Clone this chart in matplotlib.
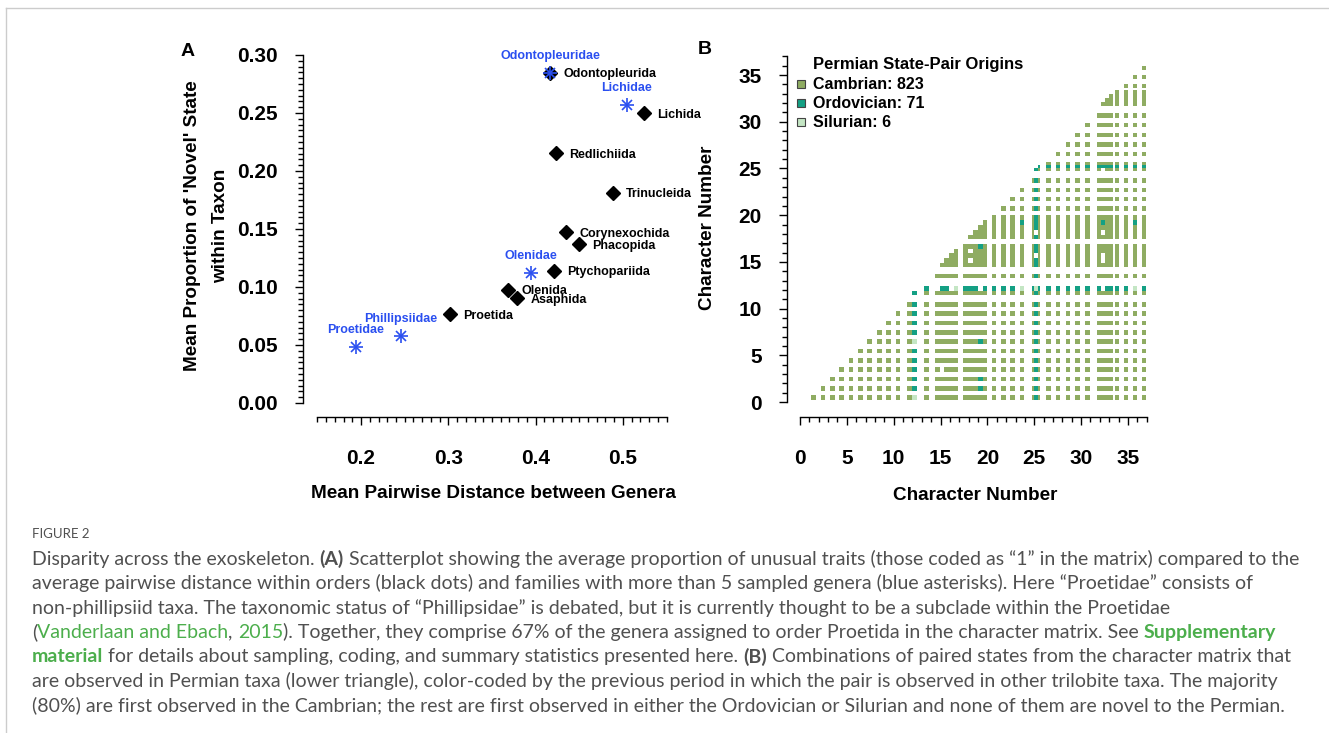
import matplotlib
matplotlib.use("Agg")
import matplotlib.pyplot as plt
import numpy as np
from matplotlib.colors import ListedColormap
from matplotlib.lines import Line2D
from matplotlib.ticker import MultipleLocator, FormatStrFormatter

# ---------------- panel A data ----------------
order_names = ['Odontopleurida', 'Lichida', 'Redlichiida', 'Trinucleida', 'Corynexochida',
               'Phacopida', 'Ptychopariida', 'Olenida', 'Asaphida', 'Proetida']
order_dist = [0.4165, 0.5242, 0.4234, 0.4883, 0.4348, 0.4497, 0.4211, 0.3684, 0.3790, 0.3019]
order_prop = [0.2847, 0.2497, 0.2152, 0.1813, 0.1471, 0.1368, 0.1141, 0.0974, 0.0902, 0.0765]

family_names = ['Odontopleuridae', 'Lichidae', 'Olenidae', 'Phillipsiidae', 'Proetidae']
family_dist = [0.4165, 0.5046, 0.3943, 0.2458, 0.1942]
family_prop = [0.2847, 0.2569, 0.1123, 0.0580, 0.0485]

# ---------------- panel B data ----------------
# state sub-cells along the character axis (same list for rows and columns)
state_lo = [0.2, 1.2, 2.2, 3.2, 4.2, 5.2, 6.2, 7.2, 8.2, 9.2, 10.2,
            11.45, 11.9, 13.25, 14.4, 14.9, 15.4, 15.9, 16.4,
            17.4, 17.92, 18.44, 18.96, 19.48, 20.45, 21.5, 22.45, 23.45,
            24.75, 25.0, 25.42, 26.3, 27.3, 28.35, 29.4, 30.45,
            31.65, 32.1, 32.5, 32.95, 33.6, 34.55, 35.55, 36.5]
state_hi = [0.7, 1.7, 2.7, 3.7, 4.7, 5.7, 6.7, 7.7, 8.7, 9.7, 10.7,
            11.9, 12.45, 13.75, 14.9, 15.4, 15.9, 16.4, 16.9,
            17.92, 18.44, 18.96, 19.48, 20.0, 20.95, 22.0, 22.95, 23.95,
            25.0, 25.42, 25.65, 26.8, 27.8, 28.85, 29.9, 30.9,
            32.1, 32.5, 32.95, 33.4, 34.05, 35.0, 36.0, 36.95]
ordovician_states = [12, 29]
ordovician_pairs = [(22, 18), (27, 22), (37, 22), (42, 22), (22, 6), (22, 2), (22, 1)]
silurian_pairs = [(12, 0), (12, 6), (18, 12), (27, 12), (29, 12), (42, 12)]
absent_pairs = [(37, 12), (22, 12), (37, 20), (37, 15), (37, 16), (20, 17), (20, 15),
                (37, 28), (15, 3), (29, 20), (29, 16), (14, 12), (17, 12)]
period_labels = ['Cambrian: 823', 'Ordovician: 71', 'Silurian: 6']
period_colors = ['#8fac62', '#14a084', '#c4e6c4']

BLUE = '#2a4ff0'
GREY = '#505050'
GREEN = '#4cae4c'

W, H = 1329, 733
plt.rcParams['font.family'] = ['Liberation Sans', 'DejaVu Sans']
plt.rcParams['font.weight'] = 'bold'
fig = plt.figure(figsize=(W / 100, H / 100), dpi=100)


def fx(px):
    return px / W


def fy(py):
    return 1 - py / H


def r_style(ax, left_out, bottom_out, xb, yb):
    ax.spines['top'].set_visible(False)
    ax.spines['right'].set_visible(False)
    ax.spines['left'].set_position(('outward', left_out))
    ax.spines['bottom'].set_position(('outward', bottom_out))
    ax.spines['left'].set_bounds(*yb)
    ax.spines['bottom'].set_bounds(*xb)
    for s in ('left', 'bottom'):
        ax.spines[s].set_linewidth(1.0)
    ax.tick_params(which='major', direction='out', length=5.8, width=1.0, labelsize=15)
    ax.tick_params(which='minor', direction='out', length=3.4, width=1.0)
    ax.tick_params(axis='y', which='major', pad=12)
    ax.tick_params(axis='x', which='major', pad=17)
    ax.patch.set_alpha(0)


# ---------------- panel A ----------------
axA = fig.add_axes([fx(317.4), fy(403), (666.6 - 317.4) / W, (403 - 55) / H])
axA.set_xlim(0.15, 0.55)
axA.set_ylim(0, 0.30)
r_style(axA, 10.4, 10.1, (0.15, 0.55), (0, 0.30))
axA.xaxis.set_major_locator(MultipleLocator(0.1))
axA.xaxis.set_minor_locator(MultipleLocator(0.01))
axA.yaxis.set_major_locator(MultipleLocator(0.05))
axA.yaxis.set_minor_locator(MultipleLocator(0.005))
axA.xaxis.set_major_formatter(FormatStrFormatter('%.1f'))
axA.yaxis.set_major_formatter(FormatStrFormatter('%.2f'))

axA.plot(order_dist, order_prop, 'D', color='black', ms=7, zorder=3, clip_on=False)
axA.plot(family_dist, family_prop, '+', color=BLUE, ms=10, mew=1.2, zorder=4, clip_on=False)
axA.plot(family_dist, family_prop, 'x', color=BLUE, ms=7, mew=1.2, zorder=4, clip_on=False)

for name, x, y in zip(order_names, order_dist, order_prop):
    axA.annotate(name, (x, y), xytext=(9.5, -1), textcoords='offset points',
                 ha='left', va='center', fontsize=9, color='black')
for name, x, y in zip(family_names, family_dist, family_prop):
    axA.annotate(name, (x, y), xytext=(0, 12.2), textcoords='offset points',
                 ha='center', va='center', fontsize=9, color=BLUE)

fig.text(fx(207), fy(226), "Mean Proportion of 'Novel' State\nwithin Taxon", rotation=90,
         ha='center', va='center', fontsize=13.6, linespacing=1.85, multialignment='center')
fig.text(fx(493), fy(494), 'Mean Pairwise Distance between Genera', ha='center', va='center',
         fontsize=13.6)
fig.text(fx(188), fy(52), 'A', ha='center', va='center', fontsize=14)

# ---------------- panel B ----------------
axB = fig.add_axes([fx(800), fy(402), (1146.7 - 800) / W, (402 - 56.4) / H])
axB.set_xlim(0, 37)
axB.set_ylim(0, 37)
r_style(axB, 9.6, 10.8, (0, 37), (0, 37))
for axis in (axB.xaxis, axB.yaxis):
    axis.set_major_locator(MultipleLocator(5))
    axis.set_minor_locator(MultipleLocator(1))

n = len(state_lo)
code = np.zeros((n, n), dtype=int)
for iy in range(n):
    for ix in range(iy + 1, n):
        code[iy, ix] = 2 if (ix in ordovician_states or iy in ordovician_states) else 1
for ix, iy in ordovician_pairs:
    code[iy, ix] = 2
for ix, iy in silurian_pairs:
    code[iy, ix] = 3
for ix, iy in absent_pairs:
    code[iy, ix] = 0

edges = sorted(set(state_lo + state_hi))
interval_state = []
for a, b in zip(edges[:-1], edges[1:]):
    idx = -1
    for k in range(n):
        if state_lo[k] == a and state_hi[k] == b:
            idx = k
    interval_state.append(idx)
m = len(interval_state)
grid = np.zeros((m, m))
for r in range(m):
    for c in range(m):
        sr, sc = interval_state[r], interval_state[c]
        if sr >= 0 and sc >= 0:
            grid[r, c] = code[sr, sc]
grid = np.ma.masked_equal(grid, 0)
axB.pcolormesh(edges, edges, grid, cmap=ListedColormap(period_colors), vmin=0.5, vmax=3.5,
               shading='flat', edgecolors='none')

axB.text(1.35, 36.1, 'Permian State-Pair Origins', ha='left', va='center', fontsize=12)
for i, (lab, col) in enumerate(zip(period_labels, period_colors)):
    yy = 34.0 - 2.03 * i
    axB.plot([0.1], [yy], 's', ms=6, mfc=col, mec='#444444', mew=0.8, clip_on=False)
    axB.text(1.35, yy, lab, ha='left', va='center', fontsize=11.5)

fig.text(fx(708), fy(228), 'Character Number', rotation=90, ha='center', va='center', fontsize=13.6)
fig.text(fx(975), fy(495), 'Character Number', ha='center', va='center', fontsize=13.6)
fig.text(fx(705), fy(50), 'B', ha='center', va='center', fontsize=14)

# ---------------- frame lines ----------------
fig.add_artist(Line2D([fx(6), 1], [fy(8), fy(8)], color='#cccccc', lw=1))
fig.add_artist(Line2D([fx(6), fx(6)], [fy(8), 0], color='#cccccc', lw=1))

# ---------------- caption ----------------
renderer = fig.canvas.get_renderer()
cap = dict(fontfamily=['Lato', 'DejaVu Sans'], fontsize=14, color=GREY, fontweight='normal')


def seg_width(s, **kw):
    t = fig.text(0, 0, s + '|', **kw)
    w1 = t.get_window_extent(renderer).width
    t.set_text('|')
    w2 = t.get_window_extent(renderer).width
    t.remove()
    return w1 - w2


def rich_line(x, y, parts):
    for s, extra in parts:
        kw = dict(cap)
        kw.update(extra)
        fig.text(fx(x), fy(y), s, ha='left', va='center', **kw)
        x += seg_width(s, **kw)


B = dict(fontweight='bold')
G = dict(color=GREEN)
BG = dict(color=GREEN, fontweight='bold')

fig.text(fx(32), fy(534), 'FIGURE 2', ha='left', va='center', fontfamily=['Lato', 'DejaVu Sans'],
         fontsize=9.5, color=GREY, fontweight='normal')
lines = [
    [('Disparity across the exoskeleton. ', {}), ('(A)', B),
     (' Scatterplot showing the average proportion of unusual traits (those coded as \u201c1\u201d in the matrix) compared to the', {})],
    [('average pairwise distance within orders (black dots) and families with more than 5 sampled genera (blue asterisks). Here \u201cProetidae\u201d consists of', {})],
    [('non-phillipsiid taxa. The taxonomic status of \u201cPhillipsidae\u201d is debated, but it is currently thought to be a subclade within the Proetidae', {})],
    [('(', {}), ('Vanderlaan and Ebach', G), (', ', {}), ('2015', G),
     ('). Together, they comprise 67% of the genera assigned to order Proetida in the character matrix. See ', {}),
     ('Supplementary', BG)],
    [('material', BG), (' for details about sampling, coding, and summary statistics presented here. ', {}), ('(B)', B),
     (' Combinations of paired states from the character matrix that', {})],
    [('are observed in Permian taxa (lower triangle), color-coded by the previous period in which the pair is observed in other trilobite taxa. The majority', {})],
    [('(80%) are first observed in the Cambrian; the rest are first observed in either the Ordovician or Silurian and none of them are novel to the Permian.', {})],
]
for i, parts in enumerate(lines):
    rich_line(32, 559 + 24.4 * i, parts)

fig.savefig('out.png', dpi=100)
